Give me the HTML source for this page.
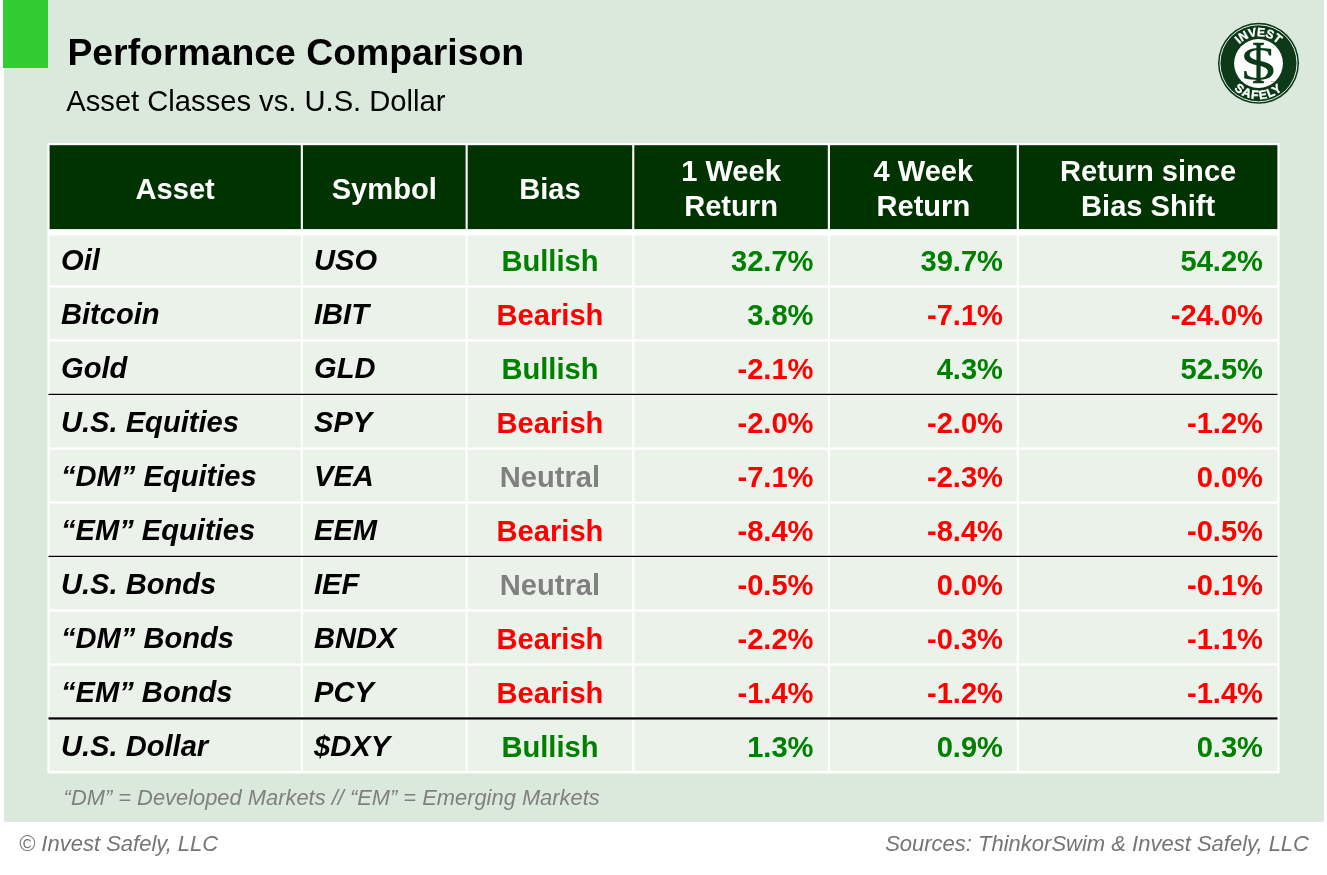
<!DOCTYPE html>
<html lang="en">
<head>
<meta charset="utf-8">
<title>Performance Comparison</title>
<style>
html,body{margin:0;padding:0;background:#fff;}
body{width:1327px;height:875px;position:relative;overflow:hidden;font-family:"Liberation Sans",Arial,sans-serif;color:#000;}
#bg{position:absolute;left:0;top:0;width:1327px;height:875px;}
.t{position:absolute;white-space:nowrap;line-height:1;margin:0;}
.title{left:67.4px;top:34.4px;font-size:37.37px;font-weight:bold;}
.sub{left:66.3px;top:86.8px;font-size:29.16px;}
.h{font-size:29.1px;font-weight:bold;color:#fff;text-align:center;line-height:35px;}
.c{font-size:29.12px;font-weight:bold;}
.a{font-style:italic;left:61px;}
.s{font-style:italic;left:314px;}
.b{left:468px;width:164px;text-align:center;}

.n1{left:634px;width:179.5px;text-align:right;}
.n2{left:830px;width:173px;text-align:right;}
.n3{left:1019px;width:244px;text-align:right;}
.g{color:#008000;}
.r{color:#ff0000;}
.n{color:#808080;}
.note{left:63.6px;top:786.7px;font-size:21.88px;font-style:italic;color:#808080;}
.fl{left:19px;top:832.7px;font-size:22px;font-style:italic;color:#757575;}
.fr{right:18px;top:832.7px;font-size:22px;font-style:italic;color:#757575;}
</style>
</head>
<body>
<svg id="bg" width="1327" height="875" viewBox="0 0 1327 875">
<rect x="4" y="0" width="1320" height="821.9" fill="#dbe8dc"/>
<rect x="3" y="0" width="45" height="68" fill="#32cd32"/>
<rect x="47.4" y="143.1" width="1232.2" height="630.3" fill="#fff"/>
<g fill="#003300">
<rect x="49.6" y="145.2" width="251.2" height="83.9"/>
<rect x="302.9" y="145.2" width="162.7" height="83.9"/>
<rect x="467.7" y="145.2" width="164.5" height="83.9"/>
<rect x="634.3" y="145.2" width="193.5" height="83.9"/>
<rect x="830.0" y="145.2" width="186.7" height="83.9"/>
<rect x="1018.9" y="145.2" width="258.5" height="83.9"/>
</g>
<g fill="#ebf2ea">
<rect x="49.6" y="235.5" width="251.2" height="49.9"/>
<rect x="302.9" y="235.5" width="162.7" height="49.9"/>
<rect x="467.7" y="235.5" width="164.5" height="49.9"/>
<rect x="634.3" y="235.5" width="193.5" height="49.9"/>
<rect x="830.0" y="235.5" width="186.7" height="49.9"/>
<rect x="1018.9" y="235.5" width="258.5" height="49.9"/>
<rect x="49.6" y="287.6" width="251.2" height="51.8"/>
<rect x="302.9" y="287.6" width="162.7" height="51.8"/>
<rect x="467.7" y="287.6" width="164.5" height="51.8"/>
<rect x="634.3" y="287.6" width="193.5" height="51.8"/>
<rect x="830.0" y="287.6" width="186.7" height="51.8"/>
<rect x="1018.9" y="287.6" width="258.5" height="51.8"/>
<rect x="49.6" y="341.6" width="251.2" height="51.8"/>
<rect x="302.9" y="341.6" width="162.7" height="51.8"/>
<rect x="467.7" y="341.6" width="164.5" height="51.8"/>
<rect x="634.3" y="341.6" width="193.5" height="51.8"/>
<rect x="830.0" y="341.6" width="186.7" height="51.8"/>
<rect x="1018.9" y="341.6" width="258.5" height="51.8"/>
<rect x="49.6" y="396.1" width="251.2" height="51.3"/>
<rect x="302.9" y="396.1" width="162.7" height="51.3"/>
<rect x="467.7" y="396.1" width="164.5" height="51.3"/>
<rect x="634.3" y="396.1" width="193.5" height="51.3"/>
<rect x="830.0" y="396.1" width="186.7" height="51.3"/>
<rect x="1018.9" y="396.1" width="258.5" height="51.3"/>
<rect x="49.6" y="449.6" width="251.2" height="51.8"/>
<rect x="302.9" y="449.6" width="162.7" height="51.8"/>
<rect x="467.7" y="449.6" width="164.5" height="51.8"/>
<rect x="634.3" y="449.6" width="193.5" height="51.8"/>
<rect x="830.0" y="449.6" width="186.7" height="51.8"/>
<rect x="1018.9" y="449.6" width="258.5" height="51.8"/>
<rect x="49.6" y="503.6" width="251.2" height="51.8"/>
<rect x="302.9" y="503.6" width="162.7" height="51.8"/>
<rect x="467.7" y="503.6" width="164.5" height="51.8"/>
<rect x="634.3" y="503.6" width="193.5" height="51.8"/>
<rect x="830.0" y="503.6" width="186.7" height="51.8"/>
<rect x="1018.9" y="503.6" width="258.5" height="51.8"/>
<rect x="49.6" y="558.1" width="251.2" height="51.3"/>
<rect x="302.9" y="558.1" width="162.7" height="51.3"/>
<rect x="467.7" y="558.1" width="164.5" height="51.3"/>
<rect x="634.3" y="558.1" width="193.5" height="51.3"/>
<rect x="830.0" y="558.1" width="186.7" height="51.3"/>
<rect x="1018.9" y="558.1" width="258.5" height="51.3"/>
<rect x="49.6" y="611.6" width="251.2" height="51.8"/>
<rect x="302.9" y="611.6" width="162.7" height="51.8"/>
<rect x="467.7" y="611.6" width="164.5" height="51.8"/>
<rect x="634.3" y="611.6" width="193.5" height="51.8"/>
<rect x="830.0" y="611.6" width="186.7" height="51.8"/>
<rect x="1018.9" y="611.6" width="258.5" height="51.8"/>
<rect x="49.6" y="665.6" width="251.2" height="51.8"/>
<rect x="302.9" y="665.6" width="162.7" height="51.8"/>
<rect x="467.7" y="665.6" width="164.5" height="51.8"/>
<rect x="634.3" y="665.6" width="193.5" height="51.8"/>
<rect x="830.0" y="665.6" width="186.7" height="51.8"/>
<rect x="1018.9" y="665.6" width="258.5" height="51.8"/>
<rect x="49.6" y="720.1" width="251.2" height="50.8"/>
<rect x="302.9" y="720.1" width="162.7" height="50.8"/>
<rect x="467.7" y="720.1" width="164.5" height="50.8"/>
<rect x="634.3" y="720.1" width="193.5" height="50.8"/>
<rect x="830.0" y="720.1" width="186.7" height="50.8"/>
<rect x="1018.9" y="720.1" width="258.5" height="50.8"/>
</g>
<rect x="48.5" y="393.75" width="1229" height="1.3" fill="#000"/>
<rect x="48.5" y="555.75" width="1229" height="1.3" fill="#000"/>
<rect x="48.5" y="717.35" width="1229" height="2.2" fill="#000"/>

<g id="logo">
  <circle cx="1258.5" cy="63.3" r="40.5" fill="#0c3a18"/>
  <circle cx="1258.5" cy="63.3" r="38.5" fill="none" stroke="#fff" stroke-width="0.9"/>
  <circle cx="1258.5" cy="63.5" r="24.4" fill="#fff"/>
  <defs>
    <path id="arcTop" d="M 1231.3 63.3 A 27.2 27.2 0 0 1 1285.7 63.3"/>
    <path id="arcBot" d="M 1222.7 63.3 A 35.8 35.8 0 0 0 1294.3 63.3"/>
  </defs>
  <text font-family="'Liberation Sans',Arial,sans-serif" font-weight="bold" font-size="12" fill="#fff" stroke="#fff" stroke-width="0.4" letter-spacing="-0.1" text-anchor="middle"><textPath href="#arcTop" startOffset="50%">INVEST</textPath></text>
  <text font-family="'Liberation Sans',Arial,sans-serif" font-weight="bold" font-size="12.2" fill="#fff" stroke="#fff" stroke-width="0.4" letter-spacing="1.2" text-anchor="middle"><textPath href="#arcBot" startOffset="50%">SAFELY</textPath></text>
  <text x="0" y="0" transform="translate(1258.7 79.6) scale(1.42 1)" font-family="'Liberation Serif','Times New Roman',serif" font-size="48.5" fill="#0c3a18" text-anchor="middle">S</text>
  <text x="0" y="0" transform="translate(1258.5 83.2) scale(0.66 1)" font-family="'Liberation Serif','Times New Roman',serif" font-size="61.5" fill="#0c3a18" stroke="#0c3a18" stroke-width="0.5" text-anchor="middle">I</text>
  <text x="1270.5" y="81.5" font-family="'Liberation Sans',Arial,sans-serif" font-size="2.4" fill="#0c3a18">TM</text>
</g>

</svg>
<div class="t title" style="">Performance Comparison</div>
<div class="t sub" style="">Asset Classes vs. U.S. Dollar</div>
<div class="t h" style="left:49.6px;width:251.2px;top:171.9px">Asset</div>
<div class="t h" style="left:302.9px;width:162.7px;top:171.9px">Symbol</div>
<div class="t h" style="left:467.7px;width:164.5px;top:171.9px">Bias</div>
<div class="t h" style="left:634.3px;width:193.5px;top:154.0px">1 Week<br>Return</div>
<div class="t h" style="left:830.0px;width:186.7px;top:154.0px">4 Week<br>Return</div>
<div class="t h" style="left:1018.9px;width:258.5px;top:154.0px">Return since<br>Bias Shift</div>
<div class="t c a" style="top:245.6px">Oil</div>
<div class="t c s" style="top:245.6px">USO</div>
<div class="t c b g" style="top:246.6px">Bullish</div>
<div class="t c n1 g" style="top:246.6px">32.7%</div>
<div class="t c n2 g" style="top:246.6px">39.7%</div>
<div class="t c n3 g" style="top:246.6px">54.2%</div>
<div class="t c a" style="top:299.6px">Bitcoin</div>
<div class="t c s" style="top:299.6px">IBIT</div>
<div class="t c b r" style="top:300.6px">Bearish</div>
<div class="t c n1 g" style="top:300.6px">3.8%</div>
<div class="t c n2 r" style="top:300.6px">-7.1%</div>
<div class="t c n3 r" style="top:300.6px">-24.0%</div>
<div class="t c a" style="top:353.6px">Gold</div>
<div class="t c s" style="top:353.6px">GLD</div>
<div class="t c b g" style="top:354.6px">Bullish</div>
<div class="t c n1 r" style="top:354.6px">-2.1%</div>
<div class="t c n2 g" style="top:354.6px">4.3%</div>
<div class="t c n3 g" style="top:354.6px">52.5%</div>
<div class="t c a" style="top:407.6px">U.S. Equities</div>
<div class="t c s" style="top:407.6px">SPY</div>
<div class="t c b r" style="top:408.6px">Bearish</div>
<div class="t c n1 r" style="top:408.6px">-2.0%</div>
<div class="t c n2 r" style="top:408.6px">-2.0%</div>
<div class="t c n3 r" style="top:408.6px">-1.2%</div>
<div class="t c a" style="top:461.6px">“DM” Equities</div>
<div class="t c s" style="top:461.6px">VEA</div>
<div class="t c b n" style="top:462.6px">Neutral</div>
<div class="t c n1 r" style="top:462.6px">-7.1%</div>
<div class="t c n2 r" style="top:462.6px">-2.3%</div>
<div class="t c n3 r" style="top:462.6px">0.0%</div>
<div class="t c a" style="top:515.6px">“EM” Equities</div>
<div class="t c s" style="top:515.6px">EEM</div>
<div class="t c b r" style="top:516.6px">Bearish</div>
<div class="t c n1 r" style="top:516.6px">-8.4%</div>
<div class="t c n2 r" style="top:516.6px">-8.4%</div>
<div class="t c n3 r" style="top:516.6px">-0.5%</div>
<div class="t c a" style="top:569.6px">U.S. Bonds</div>
<div class="t c s" style="top:569.6px">IEF</div>
<div class="t c b n" style="top:570.6px">Neutral</div>
<div class="t c n1 r" style="top:570.6px">-0.5%</div>
<div class="t c n2 r" style="top:570.6px">0.0%</div>
<div class="t c n3 r" style="top:570.6px">-0.1%</div>
<div class="t c a" style="top:623.6px">“DM” Bonds</div>
<div class="t c s" style="top:623.6px">BNDX</div>
<div class="t c b r" style="top:624.6px">Bearish</div>
<div class="t c n1 r" style="top:624.6px">-2.2%</div>
<div class="t c n2 r" style="top:624.6px">-0.3%</div>
<div class="t c n3 r" style="top:624.6px">-1.1%</div>
<div class="t c a" style="top:677.6px">“EM” Bonds</div>
<div class="t c s" style="top:677.6px">PCY</div>
<div class="t c b r" style="top:678.6px">Bearish</div>
<div class="t c n1 r" style="top:678.6px">-1.4%</div>
<div class="t c n2 r" style="top:678.6px">-1.2%</div>
<div class="t c n3 r" style="top:678.6px">-1.4%</div>
<div class="t c a" style="top:731.6px">U.S. Dollar</div>
<div class="t c s" style="top:731.6px">$DXY</div>
<div class="t c b g" style="top:732.6px">Bullish</div>
<div class="t c n1 g" style="top:732.6px">1.3%</div>
<div class="t c n2 g" style="top:732.6px">0.9%</div>
<div class="t c n3 g" style="top:732.6px">0.3%</div>
<div class="t note" style="">“DM” = Developed Markets // “EM” = Emerging Markets</div>
<div class="t fl" style="">© Invest Safely, LLC</div>
<div class="t fr" style="">Sources: ThinkorSwim &amp; Invest Safely, LLC</div>
</body>
</html>
